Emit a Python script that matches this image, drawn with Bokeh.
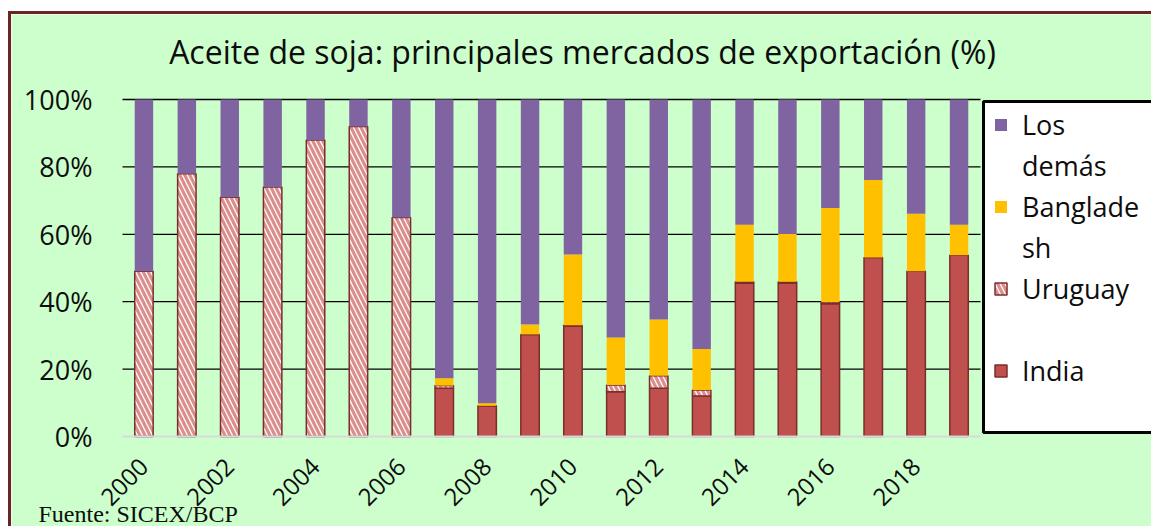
from math import pi
from bokeh.plotting import figure
from bokeh.models import (ColumnDataSource, FixedTicker, Legend, LegendItem, Label,
                          LinearAxis, BoxAnnotation, Range1d)
from bokeh.embed import file_html
from bokeh.resources import INLINE

# ---------------- data ----------------
years = list(range(2000, 2020))
india = [0, 0, 0, 0, 0, 0, 0, 14.3, 9.1, 30.3, 32.7, 13.3, 14.3, 12.0, 45.5, 45.5, 39.4, 53.1, 49.0, 53.8]
uruguay = [49, 78, 71, 74, 88, 92, 65, 0.8, 0, 0, 0.3, 2.0, 3.7, 1.8, 0.4, 0.4, 0.5, 0, 0, 0]
bangladesh = [0, 0, 0, 0, 0, 0, 0, 2.2, 0.8, 2.9, 21.0, 14.1, 16.7, 12.2, 16.9, 14.2, 27.9, 23.0, 17.1, 9.0]
los_demas = [51, 22, 29, 26, 12, 8, 35, 82.7, 90.1, 66.8, 46.0, 70.6, 65.3, 74.0, 37.2, 39.9, 32.2, 23.9, 33.9, 37.2]

legend_lines = [["Los", "demás"], ["Banglade", "sh"], ["Uruguay", " "], ["India", " "]]
x_ticks = [2000, 2002, 2004, 2006, 2008, 2010, 2012, 2014, 2016, 2018]
x_tick_labels = ["2000", "2002", "2004", "2006", "2008", "2010", "2012", "2014", "2016", "2018"]
y_ticks = [0, 20, 40, 60, 80, 100]
y_tick_labels = ["0%", "20%", "40%", "60%", "80%", "100%"]
grid_values = [20, 40, 60, 80, 100]
title_text = "Aceite de soja: principales mercados de exportación (%)"
source_text = "Fuente: SICEX/BCP"

# ---------------- layout (pixels) ----------------
FIG_W, FIG_H = 1143, 515
PLOT_L, PLOT_R, PLOT_T, PLOT_B = 111, 969, 85, 422
X0, X1 = years[0] - 0.5, years[-1] + 0.5
px_x = (PLOT_R - PLOT_L) / (X1 - X0)
px_y = (PLOT_B - PLOT_T) / 100.0

FONT = "Open Sans"
BG = "#CCFFCC"
TXT = "#0D0D0D"

src = ColumnDataSource(dict(year=years, india=india, uruguay=uruguay,
                            bangladesh=bangladesh, demas=los_demas))

p = figure(width=FIG_W, height=FIG_H, title=None,
           x_range=Range1d(X0 - PLOT_L / px_x, X1 + (FIG_W - PLOT_R) / px_x),
           y_range=Range1d(-(FIG_H - PLOT_B) / px_y, 100 + PLOT_T / px_y),
           x_axis_type=None, y_axis_type=None,
           output_backend="svg", toolbar_location=None,
           min_border_left=0, min_border_right=0, min_border_top=0, min_border_bottom=0,
           background_fill_color=BG, border_fill_color=BG, outline_line_color=None,
           styles={"margin-left": "8px", "margin-top": "11px",
                   "border-left": "3px solid #6B2424", "border-top": "3px solid #6B2424"})
p.xgrid.visible = False
p.ygrid.visible = False

# horizontal grid lines over the plotting area
p.segment(x0=[X0] * len(grid_values), x1=[X1] * len(grid_values),
          y0=grid_values, y1=grid_values, line_color="black", line_width=1.3)

rs = p.vbar_stack(["india", "uruguay", "bangladesh", "demas"], x="year", width=0.43, source=src,
                  fill_color=["#C0504D", "white", "#FFC000", "#8064A2"],
                  line_color=["#7A2E2C", "#7A2E2C", None, None],
                  line_width=[1.5, 1.5, 0, 0],
                  hatch_pattern=[" ", "\\", " ", " "],
                  hatch_color=["#C0504D", "#DB8E8C", "#FFC000", "#8064A2"],
                  hatch_scale=10, hatch_weight=3.2)

# axes (fixed at the plot-area edges)
xaxis = LinearAxis(fixed_location=0, bounds=(X0, X1), ticker=FixedTicker(ticks=x_ticks),
                   major_label_overrides=dict(zip(x_ticks, x_tick_labels)),
                   major_label_orientation=pi / 4, major_label_standoff=26,
                   major_label_text_font_size="24px",
                   axis_line_color="#D9D9D9", axis_line_width=2)
yaxis = LinearAxis(fixed_location=X0, bounds=(0, 100), ticker=FixedTicker(ticks=y_ticks),
                   major_label_overrides=dict(zip(y_ticks, y_tick_labels)),
                   major_label_text_font_size="27px",
                   major_label_standoff=30, axis_line_color=None)
for ax in (xaxis, yaxis):
    ax.major_tick_line_color = None
    ax.minor_tick_line_color = None
    ax.major_tick_out = 0
    ax.major_tick_in = 0
    ax.major_label_text_font = FONT
    ax.major_label_text_color = TXT
p.add_layout(xaxis, "below")
p.add_layout(yaxis, "left")

# legend box + legend
p.add_layout(BoxAnnotation(left=972, right=1141, top=428, bottom=97,
                           left_units="screen", right_units="screen",
                           top_units="screen", bottom_units="screen",
                           fill_color="white", fill_alpha=1,
                           line_color="black", line_alpha=1, line_width=3))
renderer_for = [rs[3], rs[2], rs[1], rs[0]]
items = []
for rend, lines in zip(renderer_for, legend_lines):
    items.append(LegendItem(label=lines[0], renderers=[rend]))
    items.append(LegendItem(label=lines[1], renderers=[]))
legend = Legend(items=items, location=(982, 99), padding=5, spacing=4,
                glyph_width=15, glyph_height=15, label_standoff=14,
                label_width=110, label_height=37,
                border_line_color=None, background_fill_alpha=0,
                label_text_font=FONT, label_text_font_size="27px", label_text_color=TXT)
p.add_layout(legend)

# title and source
p.add_layout(Label(x=571, y=478, x_units="screen", y_units="screen", text=title_text,
                   text_align="center", text_baseline="alphabetic",
                   text_font=FONT, text_font_size="32px", text_color=TXT))
p.add_layout(Label(x=27, y=16, x_units="screen", y_units="screen", text=source_text,
                   text_align="left", text_baseline="alphabetic",
                   text_font="Liberation Serif", text_font_size="24px", text_color=TXT))

open("out.html", "w").write(file_html(p, INLINE))
